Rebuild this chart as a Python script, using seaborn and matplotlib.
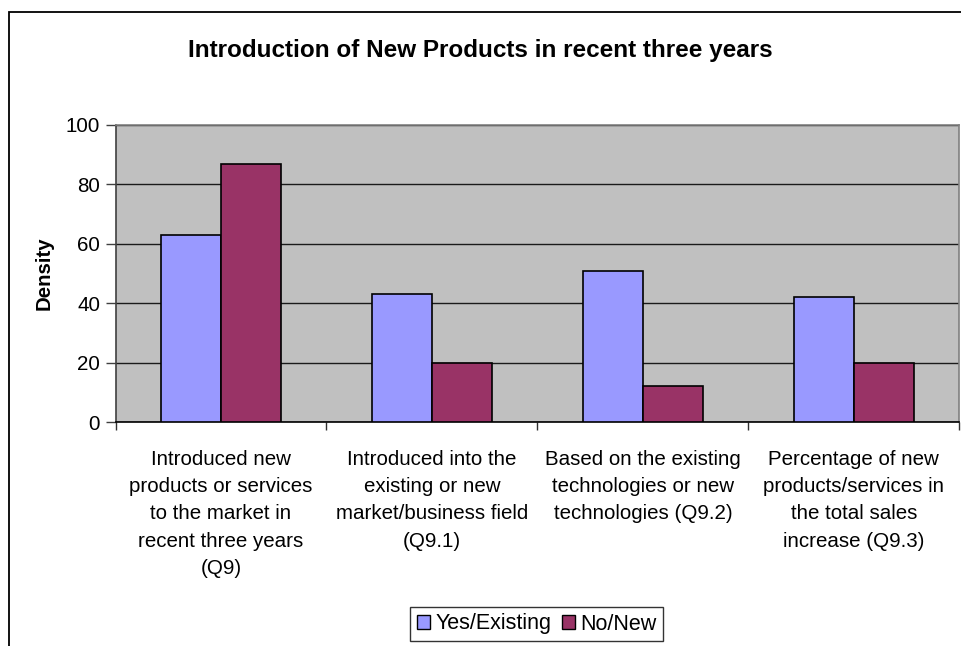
import pandas as pd
import matplotlib
matplotlib.use('Agg')
import matplotlib.pyplot as plt
import seaborn as sns
from matplotlib.patches import Rectangle
from matplotlib.ticker import FixedLocator

# --- Data ---
categories = [
    'Introduced new\nproducts or services\nto the market in\nrecent three years\n(Q9)',
    'Introduced into the\nexisting or new\nmarket/business field\n(Q9.1)',
    'Based on the existing\ntechnologies or new\ntechnologies (Q9.2)',
    'Percentage of new\nproducts/services in\nthe total sales\nincrease (Q9.3)',
]
yes_existing = [63, 43, 51, 42]
no_new = [87, 20, 12, 20]
series_names = ['Yes/Existing', 'No/New']

df = pd.DataFrame({
    'category': categories * 2,
    'value': yes_existing + no_new,
    'series': [series_names[0]] * 4 + [series_names[1]] * 4,
})

# --- Style ---
sns.set_style('white')
plt.rcParams['font.family'] = ['Liberation Sans', 'DejaVu Sans']
plt.rcParams['text.color'] = 'black'
plt.rcParams['xtick.color'] = 'black'
plt.rcParams['ytick.color'] = 'black'
plt.rcParams['axes.labelcolor'] = 'black'

W, H = 961, 646
fig = plt.figure(figsize=(W / 100, H / 100), dpi=100)

# outer chart frame (Excel-style), runs off the right and bottom edges
fig.patches.append(Rectangle((9 / W, -0.1), 1.2, 1.1 - 11.5 / H,
                             transform=fig.transFigure, fill=False,
                             edgecolor='black', linewidth=1.3, zorder=0))

left, right, top, bottom = 115.5, 959.3, 125, 422
ax = fig.add_axes([left / W, 1 - bottom / H, (right - left) / W, (bottom - top) / H])
ax.set_facecolor('#C0C0C0')

sns.barplot(data=df, x='category', y='value', hue='series', ax=ax,
            palette=['#9999FF', '#993366'], saturation=1, width=2 / 3.5,
            edgecolor='black', linewidth=1.2, legend=False, zorder=3)

ax.set_xlim(-0.5, 3.5)
ax.set_ylim(0, 100)
ax.set_yticks([0, 20, 40, 60, 80, 100])
ax.yaxis.grid(True, color='#1a1a1a', linewidth=1.0, zorder=1)
ax.set_axisbelow(True)

for s in ['top', 'right']:
    ax.spines[s].set_color('#808080')
    ax.spines[s].set_linewidth(1.2)
ax.spines['left'].set_color('#404040')
ax.spines['bottom'].set_color('black')
ax.spines['left'].set_linewidth(1.2)
ax.spines['bottom'].set_linewidth(1.2)

ax.tick_params(axis='y', which='major', direction='out', length=7.5, width=1,
               color='#404040', labelsize=14.8, pad=3.5, left=True)
ax.tick_params(axis='x', which='major', length=0, labelsize=14.8, pad=20)
ax.xaxis.set_minor_locator(FixedLocator([-0.5, 0.5, 1.5, 2.5, 3.5]))
ax.tick_params(axis='x', which='minor', direction='out', length=5.5, width=1,
               color='#303030', bottom=True)
for lbl in ax.get_xticklabels():
    lbl.set_linespacing(1.55)
    lbl.set_ha('center')

ax.set_xlabel('')
ax.set_ylabel('Density', fontsize=14.7, fontweight='bold', labelpad=9)

fig.text(480 / W, 1 - 50 / H, 'Introduction of New Products in recent three years',
         ha='center', va='center', fontsize=17.5, fontweight='bold')

handles = [Rectangle((0, 0), 1, 1, facecolor=c, edgecolor='black', linewidth=1)
           for c in ['#9999FF', '#993366']]
leg = fig.legend(handles, series_names, loc='center', ncol=2,
                 bbox_to_anchor=(536.7 / W, 1 - 624 / H), fontsize=15.5,
                 frameon=True, fancybox=False, edgecolor='black',
                 handlelength=0.6, handleheight=0.6, handletextpad=0.25,
                 columnspacing=0.5, borderpad=0.3, borderaxespad=0)
leg.get_frame().set_linewidth(1.0)

fig.savefig('out.png', dpi=100)
